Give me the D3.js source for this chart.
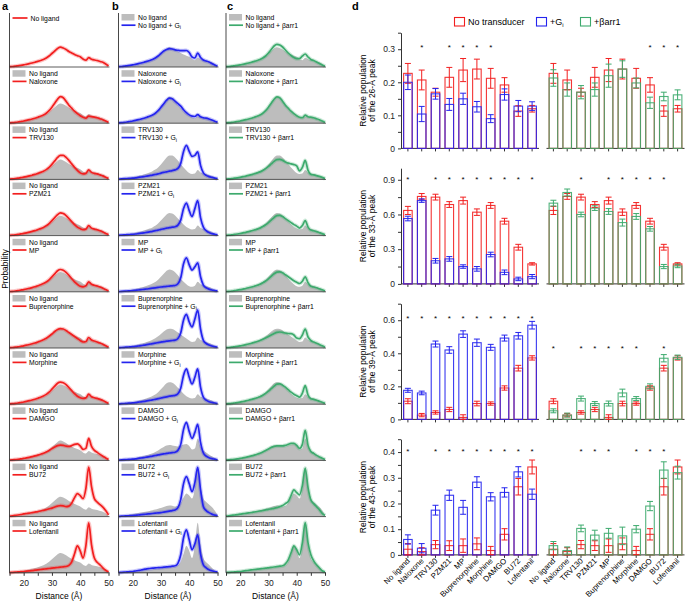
<!DOCTYPE html>
<html>
<head>
<meta charset="utf-8">
<script src="https://cdn.jsdelivr.net/npm/d3@7"></script>
<style>
  body { margin: 0; background: #fff; }
  svg { font-family: "Liberation Sans", Arial, Helvetica, sans-serif; }
</style>
</head>
<body>
<svg id="fig" width="685" height="603"></svg>
<script>
// ---------- data ----------
const LIGANDS = ["No ligand", "Naloxone", "TRV130", "PZM21", "MP", "Buprenorphine", "Morphine", "DAMGO", "BU72", "Lofentanil"];

// distance grid (Å) for the distributions
const DIST = [15,16,17,18,19,20,21,22,23,24,25,26,27,28,29,30,31,32,33,34,35,36,37,38,39,40,41,42,43,44,45,46,47,48,49,50];

// probability (arbitrary units), one row per ligand
const CURVES_NONE = [
  [0.3,0.5,0.8,1.2,1.6,2.1,2.7,3.3,4.0,4.8,5.6,6.5,7.5,9,11,13.5,16,18.5,19.8,19,17.5,15.5,14,12.5,11.3,10.2,8,6.8,9.3,7.8,7,6.5,5.5,4.8,3,1],
  [0.3,0.5,0.8,1.2,1.7,2.2,2.8,3.5,4.2,5,6,7,8.2,10,12.5,16,20,24,26.5,25.5,22,18,15,12,9.5,7.5,6,5,7,6.5,6,5.5,4.5,3.5,2.2,0.8],
  [0.3,0.5,0.8,1.2,1.7,2.2,2.8,3.5,4.2,5,6,7,8.2,9.8,12,15,18.5,22,24,24,22,19,15.5,12,9,6.5,5.5,6,9.5,7,6,5.5,4.5,3.5,2.2,0.8],
  [0.3,0.5,0.8,1.2,1.7,2.2,2.8,3.5,4.2,5,6,7,8.2,9.8,12,15,18,21,22.7,22,20,17,14,11,8.5,7,6,6.5,10,7.5,6.5,5.8,4.8,3.6,2.2,0.8],
  [0.3,0.5,0.8,1.2,1.7,2.2,2.8,3.5,4.2,5,6,7,8.2,9.8,12,15,18,21,22.3,21.5,19.5,16.5,13,10,7.5,5.5,5,6,10,7.5,6.5,5.8,4.8,3.6,2.2,0.8],
  [0.3,0.5,0.8,1.2,1.7,2.2,2.8,3.5,4.2,5,6,7,8.2,9.8,11.8,14,16.5,18.5,19.3,19,17.5,15.5,13.5,11.5,9.5,7.5,6,6.5,10.5,8,7,6,5,3.8,2.3,0.8],
  [0.3,0.5,0.8,1.2,1.7,2.2,2.8,3.5,4.2,5,6,7,8.2,9.8,12,15,18,21,22,21.5,19.5,16.5,13.5,10.5,8,6.5,5.8,6.3,10,7.5,6.5,5.8,4.8,3.6,2.2,0.8],
  [0.3,0.5,0.8,1.1,1.5,2,2.5,3.1,3.8,4.5,5.3,6.2,7.2,8.5,10,11.8,13.5,14.8,15.3,15,14.3,14,14.8,16,16.5,14.5,11,12,22,14,10,8,6,4.2,2.5,0.8],
  [0.4,0.8,1.2,1.6,2.1,2.7,3.1,3.5,4,4.5,5,5.6,6.3,7,7.8,8.5,9.6,10.5,11,10.8,10,10.5,13.5,19,23,21,18,28,49.5,30,18,14.5,12,9.5,6,1.7],
  [0.3,0.5,0.7,0.9,1.1,1.3,1.6,1.9,2.2,2.6,3,3.3,3.6,4,4.3,4.7,5,5.3,5.6,6,6.3,7.5,11,19,27,22,14.7,27,50,28,14.7,10.5,8,5,2.5,0.8]
];
const CURVES_GI = [
  [0.3,0.5,0.8,1.2,1.6,2.1,2.7,3.3,4,4.8,5.6,6.5,7.5,9,11,13.5,16,17.5,18.3,18,17.2,16.7,16.3,16.3,16.5,14.5,10,9,14,9.5,7,6,5,3.5,2,0.8],
  [0.3,0.5,0.8,1.2,1.7,2.2,2.8,3.5,4.2,5,6,7,8.2,10,12.5,16,19.5,23,25,24.5,22,19.5,17,13.5,10.5,8.3,7,6.7,8.5,6.5,5.5,5,4.2,3.2,2,0.8],
  [0.3,0.5,0.7,0.9,1.1,1.3,1.6,2,2.4,2.8,3.3,3.8,4.3,4.9,5.5,6.3,7,7.6,8.2,8.8,9.5,11,16,28,34,28,23,24,27.5,14,6.5,4,2.8,2,1.3,0.7],
  [0.3,0.5,0.7,0.9,1.1,1.3,1.6,2,2.4,2.8,3.3,3.8,4.3,4.9,5.5,6.2,6.8,7.4,8,8.4,8.8,10.5,15.5,27,32.5,25,19,27,35,18,8.5,5,3,2,1.3,0.7],
  [0.2,0.4,0.6,0.8,1,1.2,1.5,1.8,2.1,2.5,2.8,3.2,3.6,4,4.4,4.8,5.1,5.4,5.7,6,6.3,8,14,28,34,27,21.7,25,29,15,6.7,4,2.7,1.8,1.2,0.6],
  [0.3,0.5,0.7,0.9,1.1,1.3,1.6,2,2.4,2.8,3.3,3.8,4.3,4.9,5.4,5.9,6.4,6.8,7.2,7.5,7.8,9.5,15,28,33.7,26,21,29,38,19,7.7,4.5,3,2,1.3,0.7],
  [0.3,0.5,0.7,0.9,1.1,1.3,1.6,2,2.4,2.8,3.3,3.8,4.3,4.9,5.5,6.2,6.8,7.4,8,8.4,8.8,10.5,16,29,35.3,27,20.3,27,35.3,17,7,4,2.5,1.8,1.2,0.6],
  [0.3,0.5,0.7,0.9,1.1,1.3,1.6,2,2.4,2.8,3.3,3.8,4.3,4.9,5.5,6,6.5,7,7.4,7.8,8.2,10,16,31,38,29,22,28,36,18,7.5,4.2,2.7,1.8,1.2,0.6],
  [0.2,0.4,0.6,0.8,0.9,1,1.3,1.6,1.9,2.2,2.5,2.8,3.1,3.4,3.7,4,4.5,5,5.5,6,6.7,9,17,33,40,33,25,34,49.3,27,10,6,4,2.5,1.5,0.7],
  [0.3,0.5,0.7,0.9,1.1,1.3,1.8,2.3,2.8,3.4,4,4.3,4.6,4.9,5.1,5.3,5.6,5.9,6.2,6.6,7,9.5,18,35,43,33,23,29,38,19,8,5,3,2,1.3,0.6]
];
const CURVES_BARR = [
  [0.3,0.5,0.8,1.2,1.6,2.1,2.7,3.3,4,4.8,5.6,6.5,7.5,9,11,14,17.5,21,22.7,22,20,17,14,11.5,9.5,8.3,8.5,11,13,10,7.5,6.5,5,3.5,2,0.8],
  [0.3,0.5,0.8,1.2,1.7,2.2,2.8,3.5,4.2,5,6,7,8.2,10,12.5,16,20,24,26.3,25.5,22,18,15,12,9.5,7.5,6,5.5,8,6.5,6,5.5,4.5,3.5,2.2,0.8],
  [0.3,0.5,0.8,1.2,1.6,2.1,2.7,3.3,4,4.8,5.6,6.5,7.5,9,10.8,13,15.5,18,19.7,20,19,17.5,16.3,15.5,14.8,13.5,8.5,12,19,9,5,4.5,3.8,3,2,0.8],
  [0.3,0.5,0.8,1.2,1.6,2.1,2.7,3.3,4,4.8,5.6,6.5,7.5,9,10.8,13,15.5,18,20,20.3,19,17,15,13,11,9.5,7.5,10,15,8.5,5.5,4.8,4,3,2,0.8],
  [0.3,0.5,0.8,1.2,1.6,2.1,2.7,3.3,4,4.8,5.6,6.5,7.5,9,10.8,13,15.5,18,19.7,20,19,17,15,13,11,9.5,8.3,10.5,15,9,5.5,4.8,4,3,2,0.8],
  [0.3,0.5,0.8,1.2,1.6,2.1,2.7,3.3,4,4.8,5.6,6.5,7.5,8.7,10,11.5,13,14.5,15.7,16,15.6,15,14.5,14.3,13,10,9.3,13,19,11,7.5,6,4.8,3.5,2.2,0.8],
  [0.3,0.5,0.8,1.2,1.6,2.1,2.7,3.3,4,4.8,5.6,6.5,7.5,9,10.8,13,15.5,18,20,20.3,19,17,14.5,12,10,8.5,7,11,18.5,9,5.5,4.8,4,3,2,0.8],
  [0.3,0.5,0.8,1.1,1.5,2,2.5,3.1,3.8,4.5,5.3,6.2,7.2,8.5,10,11.5,13,14,14.5,14.5,14.5,15,16,17,17,15,12,16,30,15,9,7,5,3.5,2.2,0.8],
  [0.4,0.8,1.2,1.6,2,2.5,2.9,3.3,3.7,4.1,4.6,5.1,5.6,6.1,6.7,7.3,7.8,8.3,9,10,11,13,15,21,26.7,24,21.7,31,48.3,29,16.7,13,10,7,3.3,1.2],
  [0.3,0.5,0.7,0.9,1.1,1.3,1.7,2.1,2.5,2.9,3.3,3.6,3.9,4.3,4.6,5,5.4,5.8,6.2,6.6,7,9,13,20,27,23,18,30,50.3,30,18,12,8,5,2,0.8]
];

// panel d: relative peak populations (mean, error), rows = 26, 33, 39, 43 Å peaks
const PEAKS = ["26", "33", "39", "43"];
const POP_NONE = [
  [0.227,0.207,0.17,0.215,0.237,0.24,0.212,0.192,0.113,0.12],
  [0.635,0.756,0.75,0.686,0.72,0.62,0.678,0.542,0.317,0.173],
  [0.11,0.026,0.042,0.06,0.012,0.096,0.096,0.19,0.31,0.372],
  [0.022,0.013,0.04,0.036,0.036,0.043,0.017,0.08,0.265,0.342]
];
const ERR_NONE = [
  [0.03,0.03,0.012,0.03,0.035,0.03,0.03,0.022,0.016,0.01],
  [0.035,0.025,0.025,0.025,0.03,0.028,0.025,0.025,0.025,0.01],
  [0.015,0.01,0.01,0.013,0.016,0.014,0.01,0.013,0.017,0.013],
  [0.022,0.015,0.016,0.019,0.026,0.023,0.016,0.022,0.032,0.027]
];
const POP_GI = [
  [0.2,0.104,0.165,0.133,0.15,0.126,0.09,0.163,0.128,0.128],
  [0.565,0.72,0.2,0.216,0.15,0.13,0.254,0.1,0.043,0.063],
  [0.176,0.16,0.456,0.42,0.516,0.464,0.436,0.492,0.506,0.57],
  [0.06,0.026,0.174,0.232,0.185,0.283,0.226,0.243,0.323,0.236]
];
const ERR_GI = [
  [0.022,0.023,0.016,0.018,0.017,0.016,0.012,0.017,0.017,0.013],
  [0.02,0.015,0.02,0.02,0.015,0.02,0.02,0.02,0.015,0.018],
  [0.012,0.011,0.018,0.02,0.02,0.022,0.018,0.018,0.02,0.023],
  [0.018,0.018,0.019,0.02,0.027,0.021,0.016,0.018,0.02,0.02]
];
const POP_BARR = [
  [0.213,0.178,0.17,0.178,0.22,0.24,0.198,0.138,0.157,0.162],
  [0.698,0.79,0.6,0.655,0.626,0.53,0.583,0.476,0.15,0.155],
  [0.052,0.026,0.126,0.096,0.096,0.16,0.126,0.2,0.37,0.376],
  [0.036,0.017,0.103,0.077,0.084,0.074,0.1,0.19,0.33,0.32]
];
const ERR_BARR = [
  [0.025,0.02,0.02,0.02,0.035,0.025,0.015,0.017,0.013,0.015],
  [0.025,0.03,0.02,0.02,0.025,0.03,0.025,0.02,0.018,0.015],
  [0.012,0.012,0.015,0.012,0.015,0.023,0.012,0.015,0.022,0.013],
  [0.016,0.014,0.013,0.019,0.019,0.034,0.014,0.018,0.032,0.025]
];
// significance stars (ligand index) and the level they sit at
const STAR_GI = [[1,3,4,5,6],[0,2,3,4,5,6,7,8,9],[0,1,2,3,4,5,6,7,8,9],[0,2,3,4,5,6,7,8,9]];
const STAR_BARR = [[7,8,9],[2,4,5,6,7,8],[0,2,3,4,5,6,8],[2,3,4,6,7,8]];
const STAR_LEVEL = [[0.31,0.31],[0.92,0.92],[0.625,0.44],[0.41,0.41]];

// axis ticks for panel d
const D_YMAX = [0.35, 1.0, 0.7, 0.45];
const D_TICKS = [[0,0.1,0.2,0.3],[0,0.3,0.6,0.9],[0,0.2,0.4,0.6],[0,0.1,0.2,0.3,0.4]];
const D_MINOR = [[0.05,0.15,0.25,0.35],[0.15,0.45,0.75],[0.1,0.3,0.5,0.7],[0.05,0.15,0.25,0.35,0.45]];
const DIST_TICKS = [15,20,25,30,35,40,45,50];
const DIST_LABELS = [20,30,40,50];

// ---------- style ----------
const C_RED = '#f21f1f', C_BLUE = '#2424ee', C_GREEN = '#3daa6d', C_GRAY = '#bdbdbd', C_AX = '#333';
const FS = 6.8;

const svg = d3.select('#fig');

// panel letters
[['a',2],['b',112],['c',227],['d',352]].forEach(([t,x]) => {
  svg.append('text').attr('x', x).attr('y', 10).attr('font-size', 11)
    .attr('font-weight', 'bold').text(t);
});

// ---------- panels a-c: distance distributions ----------
const COL_RANGE = [[9.5,108.5],[118.5,217.5],[226,325]];
const COL_COLOR = [C_RED, C_BLUE, C_GREEN];
const COL_CURVES = [CURVES_NONE, CURVES_GI, CURVES_BARR];
const RIDGE_TOP = 13, ROW0 = 67, ROW_STEP = 56.2, ROW_H = 54;

function legendLabel(sel, c, lig) {
  if (c === 0) sel.text(lig);
  else if (c === 1) {
    sel.append('tspan').text(lig + ' + G');
    sel.append('tspan').attr('font-size', 5).attr('dy', 1.6).text('i');
  } else sel.text(lig + ' + βarr1');
}

COL_RANGE.forEach((rng, c) => {
  const x = d3.scaleLinear().domain([15, 50]).range(rng);
  const g = svg.append('g');
  const color = COL_COLOR[c];

  LIGANDS.forEach((lig, r) => {
    const base = ROW0 + r * ROW_STEP;
    const y = d3.scaleLinear().domain([0, 54]).range([base, base - ROW_H]);
    const pts = cur => DIST.map((d, i) => [d, cur[i]]);
    const area = d3.area().x(d => x(d[0])).y0(base).y1(d => y(d[1])).curve(d3.curveMonotoneX);
    const line = d3.line().x(d => x(d[0])).y(d => y(d[1])).curve(d3.curveMonotoneX);

    // gray reference
    let ref = null, refLabel = null;
    if (c === 0 && r > 0) { ref = CURVES_NONE[0]; refLabel = 'No ligand'; }
    if (c > 0) { ref = CURVES_NONE[r]; refLabel = lig; }
    if (ref) g.append('path').attr('d', area(pts(ref))).attr('fill', C_GRAY);

    const cur = pts(COL_CURVES[c][r]);
    g.append('path').attr('d', line(cur)).attr('fill', 'none')
      .attr('stroke', color).attr('stroke-opacity', 0.25).attr('stroke-width', 4);
    g.append('path').attr('d', line(cur)).attr('fill', 'none')
      .attr('stroke', color).attr('stroke-width', 1.7);

    // row baseline
    if (r < 9) g.append('line').attr('x1', rng[0]).attr('x2', rng[1] + 1)
      .attr('y1', base).attr('y2', base).attr('stroke', C_AX).attr('stroke-width', 0.8);

    // legend
    const lx = rng[0] + 3;
    if (ref) {
      g.append('rect').attr('x', lx).attr('y', base - 53).attr('width', 13).attr('height', 6.5).attr('fill', C_GRAY);
      g.append('text').attr('x', lx + 16.5).attr('y', base - 47.3).attr('font-size', FS).text(refLabel);
      g.append('line').attr('x1', lx).attr('x2', lx + 14).attr('y1', base - 41.8).attr('y2', base - 41.8)
        .attr('stroke', color).attr('stroke-width', 1.7);
      legendLabel(g.append('text').attr('x', lx + 16.5).attr('y', base - 39.3).attr('font-size', FS), c, lig);
    } else {
      g.append('line').attr('x1', lx).attr('x2', lx + 15).attr('y1', base - 49).attr('y2', base - 49)
        .attr('stroke', color).attr('stroke-width', 1.7);
      g.append('text').attr('x', lx + 18).attr('y', base - 46.5).attr('font-size', FS).text(lig);
    }
  });

  // left axis line
  const bottom = ROW0 + 9 * ROW_STEP;
  g.append('line').attr('x1', rng[0]).attr('x2', rng[0]).attr('y1', RIDGE_TOP).attr('y2', bottom)
    .attr('stroke', C_AX).attr('stroke-width', 0.9);

  // bottom axis
  const ax = g.append('g').attr('transform', `translate(0,${bottom})`)
    .call(d3.axisBottom(x).tickValues(DIST_TICKS).tickSize(3).tickSizeOuter(0)
      .tickFormat(d => DIST_LABELS.includes(d) ? d : ''));
  ax.select('.domain').attr('stroke', C_AX).attr('d', `M${rng[0]},0H${rng[1] + 1}`);
  ax.selectAll('.tick line').attr('stroke', C_AX);
  ax.selectAll('text').attr('font-size', 8.5).attr('font-family', null).attr('fill', '#222').attr('dy', '0.9em');
  g.append('text').attr('x', (rng[0] + rng[1]) / 2).attr('y', 599).attr('text-anchor', 'middle')
    .attr('font-size', 8.5).text('Distance (Å)');
});

svg.append('text').attr('transform', 'translate(8,269) rotate(-90)').attr('text-anchor', 'middle')
  .attr('font-size', 8.5).text('Probability');

// ---------- panel d: peak populations ----------
const D_GROUPS = [
  { rng: [401, 539], pop: POP_GI, err: ERR_GI, color: C_BLUE, stars: STAR_GI },
  { rng: [546.5, 684.5], pop: POP_BARR, err: ERR_BARR, color: C_GREEN, stars: STAR_BARR }
];
const D_TOP0 = 32.7, D_STEP = 135.5, D_H = 115.7;

PEAKS.forEach((pk, r) => {
  const top = D_TOP0 + r * D_STEP, y0 = top + D_H;
  const y = d3.scaleLinear().domain([0, D_YMAX[r]]).range([y0, top]);
  const g = svg.append('g');

  // y axis
  const ya = g.append('g').attr('transform', 'translate(401,0)')
    .call(d3.axisLeft(y).tickValues(D_TICKS[r].concat(D_MINOR[r])).tickSize(3).tickSizeOuter(0)
      .tickFormat(d => D_TICKS[r].includes(d) ? (d === 0 ? '0' : d3.format('.1f')(d)) : ''));
  ya.select('.domain').attr('stroke', C_AX);
  ya.selectAll('.tick line').attr('stroke', C_AX);
  ya.selectAll('text').attr('font-size', 8.5).attr('font-family', null).attr('fill', '#222');

  const yt = g.append('text').attr('transform', `translate(366,${(top + y0) / 2}) rotate(-90)`)
    .attr('text-anchor', 'middle').attr('font-size', 8.5);
  yt.append('tspan').attr('x', 0).attr('dy', 0).text('Relative population');
  yt.append('tspan').attr('x', 0).attr('dy', 8.7).text(`of the ${pk}-Å peak`);

  D_GROUPS.forEach((grp, k) => {
    const xb = d3.scaleBand().domain(LIGANDS).range(grp.rng).paddingInner(0.38).paddingOuter(0.19);
    const bw = xb.bandwidth();

    // baseline with ticks
    const xa = g.append('g').attr('transform', `translate(0,${y0})`)
      .call(d3.axisBottom(xb).tickSize(3).tickSizeOuter(0).tickFormat(''));
    xa.select('.domain').attr('stroke', C_AX).attr('d', `M${grp.rng[0]},0H${grp.rng[1]}`);
    xa.selectAll('.tick line').attr('stroke', C_AX);

    const series = [
      { pop: POP_NONE[r], err: ERR_NONE[r], color: C_RED },
      { pop: grp.pop[r], err: grp.err[r], color: grp.color }
    ];
    series.forEach(s => {
      g.selectAll(null).data(LIGANDS).join('rect')
        .attr('x', d => xb(d)).attr('width', bw)
        .attr('y', (d, i) => y(s.pop[i])).attr('height', (d, i) => y0 - y(s.pop[i]))
        .attr('fill', 'none').attr('stroke', s.color).attr('stroke-width', 1.1).attr('stroke-opacity', 0.9);
    });
    series.forEach(s => {
      LIGANDS.forEach((lig, i) => {
        const cx = xb(lig) + bw / 2;
        const lo = y(Math.max(0, s.pop[i] - s.err[i])), hi = y(s.pop[i] + s.err[i]);
        const eg = g.append('g').attr('stroke', s.color).attr('stroke-width', 1);
        eg.append('line').attr('x1', cx).attr('x2', cx).attr('y1', lo).attr('y2', hi);
        eg.append('line').attr('x1', cx - 3).attr('x2', cx + 3).attr('y1', lo).attr('y2', lo);
        eg.append('line').attr('x1', cx - 3).attr('x2', cx + 3).attr('y1', hi).attr('y2', hi);
      });
    });

    // stars
    grp.stars[r].forEach(i => {
      g.append('text').attr('x', xb(LIGANDS[i]) + bw / 2).attr('y', y(STAR_LEVEL[r][k]) + 4.5)
        .attr('text-anchor', 'middle').attr('font-size', 8).text('*');
    });

    // ligand names under the last row
    if (r === PEAKS.length - 1) {
      LIGANDS.forEach(lig => {
        const cx = xb(lig) + bw / 2;
        g.append('text').attr('transform', `translate(${cx + 2.5},${y0 + 6.5}) rotate(-45)`)
          .attr('text-anchor', 'end').attr('font-size', 7.8).text(lig);
      });
    }
  });
});

// panel d legend
const D_LEG = [['No transducer', C_RED, 454.5], ['+G', C_BLUE, 536.5], ['+βarr1', C_GREEN, 580.5]];
D_LEG.forEach(([label, col, lx]) => {
  svg.append('rect').attr('x', lx).attr('y', 17.5).attr('width', 10).attr('height', 8.5)
    .attr('fill', 'none').attr('stroke', col).attr('stroke-width', 1.1);
  const t = svg.append('text').attr('x', lx + 13.5).attr('y', 25).attr('font-size', 9).text(label);
  if (label === '+G') t.append('tspan').attr('font-size', 6).attr('dy', 2).text('i');
});
</script>
</body>
</html>
